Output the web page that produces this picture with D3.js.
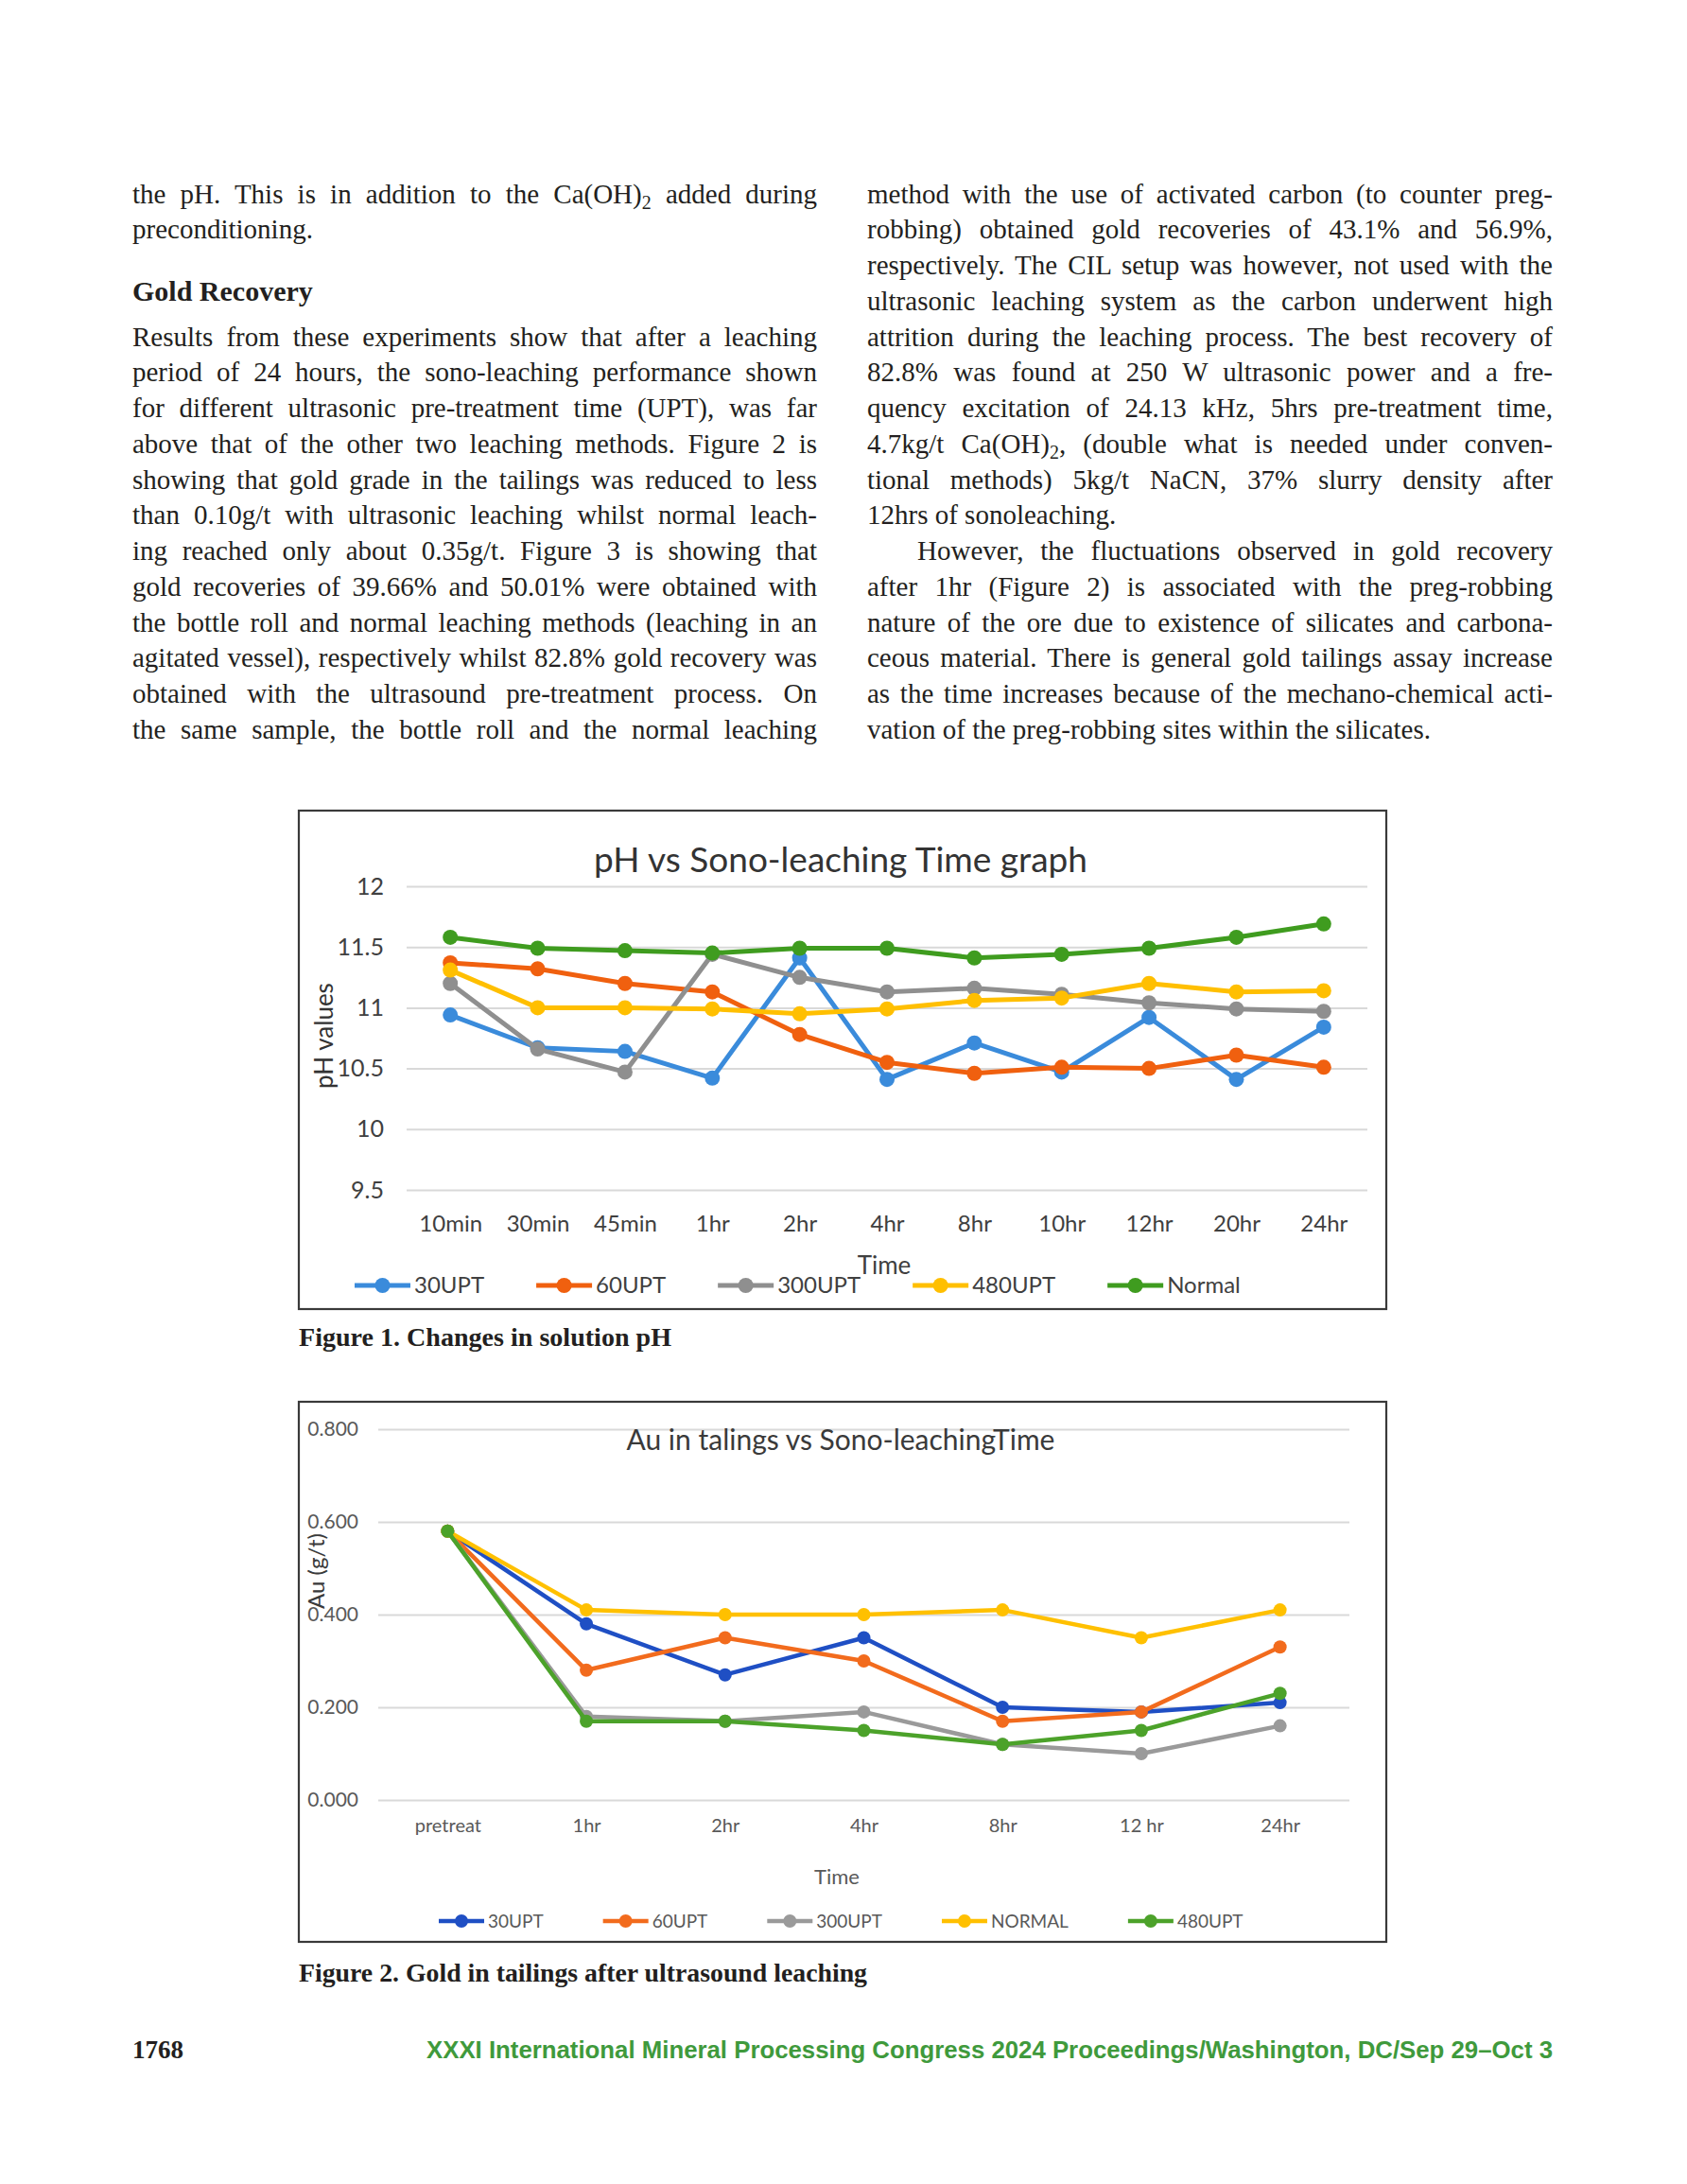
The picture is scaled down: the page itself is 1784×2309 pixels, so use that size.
<!DOCTYPE html>
<html>
<head>
<meta charset="utf-8">
<script src="https://cdn.jsdelivr.net/npm/d3@7"></script>
<style>
  body { margin: 0; background: #fff; }
</style>
</head>
<body>
<svg id="page" width="1784" height="2309"></svg>
<script>
// ---- chart data ----
const phTimes = ["10min", "30min", "45min", "1hr", "2hr", "4hr", "8hr", "10hr", "12hr", "20hr", "24hr"];
const phTicks = [9.5, 10, 10.5, 11, 11.5, 12];
const ph30UPT = [10.94, 10.67, 10.64, 10.42, 11.41, 10.41, 10.71, 10.47, 10.92, 10.41, 10.84];
const ph60UPT = [11.37, 11.32, 11.2, 11.13, 10.78, 10.55, 10.46, 10.51, 10.5, 10.61, 10.51];
const ph300UPT = [11.2, 10.66, 10.47, 11.44, 11.25, 11.13, 11.16, 11.11, 11.04, 10.99, 10.97];
const ph480UPT = [11.31, 11.0, 11.0, 10.99, 10.95, 10.99, 11.06, 11.08, 11.2, 11.13, 11.14];
const phNormal = [11.58, 11.49, 11.47, 11.45, 11.49, 11.49, 11.41, 11.44, 11.49, 11.58, 11.69];
const phNames = ["30UPT", "60UPT", "300UPT", "480UPT", "Normal"];

const auTimes = ["pretreat", "1hr", "2hr", "4hr", "8hr", "12 hr", "24hr"];
const auTicks = [0, 0.2, 0.4, 0.6, 0.8];
const au30UPT = [0.58, 0.38, 0.27, 0.35, 0.20, 0.19, 0.21];
const au60UPT = [0.58, 0.28, 0.35, 0.30, 0.17, 0.19, 0.33];
const au300UPT = [0.58, 0.18, 0.17, 0.19, 0.12, 0.10, 0.16];
const auNORMAL = [0.58, 0.41, 0.40, 0.40, 0.41, 0.35, 0.41];
const au480UPT = [0.58, 0.17, 0.17, 0.15, 0.12, 0.15, 0.23];
const auNames = ["30UPT", "60UPT", "300UPT", "NORMAL", "480UPT"];

// ---- page text ----
const leftLines = [
  "the pH. This is in addition to the Ca(OH)~2~ added during",
  "preconditioning."
];
const leftLines2 = [
  "Results from these experiments show that after a leaching",
  "period of 24 hours, the sono-leaching performance shown",
  "for different ultrasonic pre-treatment time (UPT), was far",
  "above that of the other two leaching methods. Figure 2 is",
  "showing that gold grade in the tailings was reduced to less",
  "than 0.10g/t with ultrasonic leaching whilst normal leach-",
  "ing reached only about 0.35g/t. Figure 3 is showing that",
  "gold recoveries of 39.66% and 50.01% were obtained with",
  "the bottle roll and normal leaching methods (leaching in an",
  "agitated vessel), respectively whilst 82.8% gold recovery was",
  "obtained with the ultrasound pre-treatment process. On",
  "the same sample, the bottle roll and the normal leaching"
];
const rightLines = [
  "method with the use of activated carbon (to counter preg-",
  "robbing) obtained gold recoveries of 43.1% and 56.9%,",
  "respectively. The CIL setup was however, not used with the",
  "ultrasonic leaching system as the carbon underwent high",
  "attrition during the leaching process. The best recovery of",
  "82.8% was found at 250 W ultrasonic power and a fre-",
  "quency excitation of 24.13 kHz, 5hrs pre-treatment time,",
  "4.7kg/t Ca(OH)~2~, (double what is needed under conven-",
  "tional methods) 5kg/t NaCN, 37% slurry density after",
  "12hrs of sonoleaching.",
  "However, the fluctuations observed in gold recovery",
  "after 1hr (Figure 2) is associated with the preg-robbing",
  "nature of the ore due to existence of silicates and carbona-",
  "ceous material. There is general gold tailings assay increase",
  "as the time increases because of the mechano-chemical acti-",
  "vation of the preg-robbing sites within the silicates."
];

const svg = d3.select("#page");
const serif = "'Liberation Serif', 'DejaVu Serif', serif";
const sans = "Lato, 'Open Sans', sans-serif";
const bodySize = 29;

// write one line of body text, justified if asked
function textLine(str, x, y, width, justify) {
  const t = svg.append("text")
    .attr("x", x).attr("y", y)
    .attr("font-family", serif)
    .attr("font-size", bodySize)
    .attr("fill", "#231f20");
  str.split("~").forEach(function (s, i) {
    const sp = t.append("tspan").text(s);
    if (i % 2 == 1) sp.attr("font-size", 20).attr("baseline-shift", "-28%");
  });
  if (justify) {
    const nat = t.node().getComputedTextLength();
    const spaces = (str.match(/ /g) || []).length;
    const ws = (width - nat) / spaces;
    if (ws > -3) t.attr("word-spacing", ws);
    else t.attr("textLength", width).attr("lengthAdjust", "spacing");
  }
}

const row0 = 214.6, rowH = 37.75;
const leftX = 140, leftW = 724, rightX = 917, rightW = 725;

textLine(leftLines[0], leftX, row0, leftW, true);
textLine(leftLines[1], leftX, row0 + rowH, leftW, false);
svg.append("text")
  .attr("x", leftX).attr("y", 317.5)
  .attr("font-family", serif).attr("font-weight", "bold")
  .attr("font-size", 30).attr("fill", "#231f20")
  .text("Gold Recovery");
leftLines2.forEach(function (s, i) {
  textLine(s, leftX, row0 + rowH * (i + 4), leftW, true);
});
rightLines.forEach(function (s, i) {
  const last = i == 9 || i == rightLines.length - 1;
  const indent = i == 10 ? 53 : 0;
  textLine(s, rightX + indent, row0 + rowH * i, rightW - indent, !last);
});

// ---- line chart ----
function drawChart(c) {
  svg.append("rect")
    .attr("x", c.box[0]).attr("y", c.box[1])
    .attr("width", c.box[2]).attr("height", c.box[3])
    .attr("fill", "#fff").attr("stroke", "#3a3a3a").attr("stroke-width", 2.2);

  const x = d3.scalePoint().domain(c.cats).range(c.xr).padding(0.5);
  const y = d3.scaleLinear().domain(d3.extent(c.ticks)).range(c.yr);

  // gridlines + y labels
  const ya = svg.append("g")
    .attr("transform", "translate(" + c.xr[0] + ",0)")
    .call(d3.axisLeft(y).tickValues(c.ticks).tickFormat(c.fmt)
      .tickSize(-(c.xr[1] - c.xr[0])).tickPadding(c.tickPad));
  ya.select(".domain").remove();
  ya.selectAll("line").attr("stroke", "#d9d9d9").attr("stroke-width", 2);
  ya.selectAll("text").attr("font-family", sans).attr("font-size", c.tickFont)
    .attr("fill", c.textCol);

  // category labels
  const xa = svg.append("g")
    .attr("transform", "translate(0," + c.yr[0] + ")")
    .call(d3.axisBottom(x).tickSize(0).tickPadding(c.xPad));
  xa.select(".domain").remove();
  xa.selectAll("text").attr("font-family", sans).attr("font-size", c.xFont)
    .attr("fill", c.textCol);

  // title and axis titles
  svg.append("text").attr("x", c.title[1]).attr("y", c.title[2])
    .attr("text-anchor", "middle").attr("font-family", sans)
    .attr("font-size", c.title[3]).attr("fill", c.titleCol).text(c.title[0]);
  svg.append("text").attr("x", c.xTitle[0]).attr("y", c.xTitle[1])
    .attr("text-anchor", "middle").attr("font-family", sans)
    .attr("font-size", c.xTitle[2]).attr("fill", c.textCol).text("Time");
  svg.append("text")
    .attr("transform", "translate(" + c.yTitle[1] + "," + c.yTitle[2] + ") rotate(-90)")
    .attr("text-anchor", "middle").attr("font-family", sans)
    .attr("font-size", c.yTitle[3]).attr("fill", c.titleCol).text(c.yTitle[0]);

  const line = d3.line()
    .x(function (d, i) { return x(c.cats[i]); })
    .y(function (d) { return y(d); });

  c.series.forEach(function (s, k) {
    svg.append("path").datum(s)
      .attr("d", line).attr("fill", "none")
      .attr("stroke", c.colors[k]).attr("stroke-width", c.lw)
      .attr("stroke-linejoin", "round");
    svg.append("g").selectAll("circle").data(s).enter().append("circle")
      .attr("cx", function (d, i) { return x(c.cats[i]); })
      .attr("cy", function (d) { return y(d); })
      .attr("r", c.r).attr("fill", c.colors[k]);
  });

  // legend
  let lx = c.leg[0];
  const ly = c.leg[1];
  c.names.forEach(function (n, k) {
    svg.append("line").attr("x1", lx).attr("x2", lx + c.leg[2])
      .attr("y1", ly).attr("y2", ly)
      .attr("stroke", c.colors[k]).attr("stroke-width", c.lw);
    svg.append("circle").attr("cx", lx + c.leg[2] / 2).attr("cy", ly)
      .attr("r", c.r).attr("fill", c.colors[k]);
    const t = svg.append("text").attr("x", lx + c.leg[2] + 4).attr("y", ly)
      .attr("dy", "0.35em").attr("font-family", sans)
      .attr("font-size", c.leg[3]).attr("fill", c.textCol).text(n);
    lx += c.leg[2] + 4 + t.node().getComputedTextLength() + c.leg[4];
  });
}

drawChart({
  box: [316, 857, 1150, 527],
  cats: phTimes, ticks: phTicks, fmt: d3.format(""),
  xr: [430, 1446], yr: [1258, 937],
  series: [ph30UPT, ph60UPT, ph300UPT, ph480UPT, phNormal],
  names: phNames,
  colors: ["#3a8bdb", "#f0600f", "#8f8f8f", "#ffbf00", "#3f9c1f"],
  lw: 5, r: 8,
  tickFont: 25, tickPad: 24, xFont: 24, xPad: 27, textCol: "#404040", titleCol: "#333",
  title: ["pH vs Sono-leaching Time graph", 889, 922, 37],
  xTitle: [935, 1347, 26],
  yTitle: ["pH values", 352, 1095, 26],
  leg: [375, 1359, 59, 24, 55]
});

drawChart({
  box: [316, 1482, 1150, 571],
  cats: auTimes, ticks: auTicks, fmt: d3.format(".3f"),
  xr: [400, 1427], yr: [1903, 1511],
  series: [au30UPT, au60UPT, au300UPT, auNORMAL, au480UPT],
  names: auNames,
  colors: ["#1f4fc4", "#f26b1d", "#9a9a9a", "#ffc000", "#4ca22a"],
  lw: 4.5, r: 7,
  tickFont: 21, tickPad: 21, xFont: 20, xPad: 20, textCol: "#595959", titleCol: "#3a3a3a",
  title: ["Au in talings vs Sono-leachingTime", 889, 1533, 30],
  xTitle: [885, 1992, 22],
  yTitle: ["Au  (g/t)", 343, 1661, 24],
  leg: [464, 2031, 48, 19, 63]
});

// captions and footer
svg.append("text").attr("x", 316).attr("y", 1423)
  .attr("font-family", serif).attr("font-weight", "bold").attr("font-size", 28)
  .attr("textLength", 394).attr("lengthAdjust", "spacingAndGlyphs")
  .attr("fill", "#231f20").text("Figure 1. Changes in solution pH");
svg.append("text").attr("x", 316).attr("y", 2095)
  .attr("font-family", serif).attr("font-weight", "bold").attr("font-size", 28)
  .attr("textLength", 601).attr("lengthAdjust", "spacingAndGlyphs")
  .attr("fill", "#231f20").text("Figure 2. Gold in tailings after ultrasound leaching");
svg.append("text").attr("x", 140).attr("y", 2176)
  .attr("font-family", serif).attr("font-weight", "bold").attr("font-size", 27)
  .attr("fill", "#231f20").text("1768");
svg.append("text").attr("x", 1642).attr("y", 2176)
  .attr("text-anchor", "end")
  .attr("font-family", "'Liberation Sans Narrow', 'Liberation Sans', sans-serif")
  .attr("font-weight", "bold").attr("font-size", 25)
  .attr("textLength", 1191).attr("lengthAdjust", "spacingAndGlyphs")
  .attr("fill", "#3f9a3c")
  .text("XXXI International Mineral Processing Congress 2024 Proceedings/Washington, DC/Sep 29–Oct 3");
</script>
</body>
</html>
